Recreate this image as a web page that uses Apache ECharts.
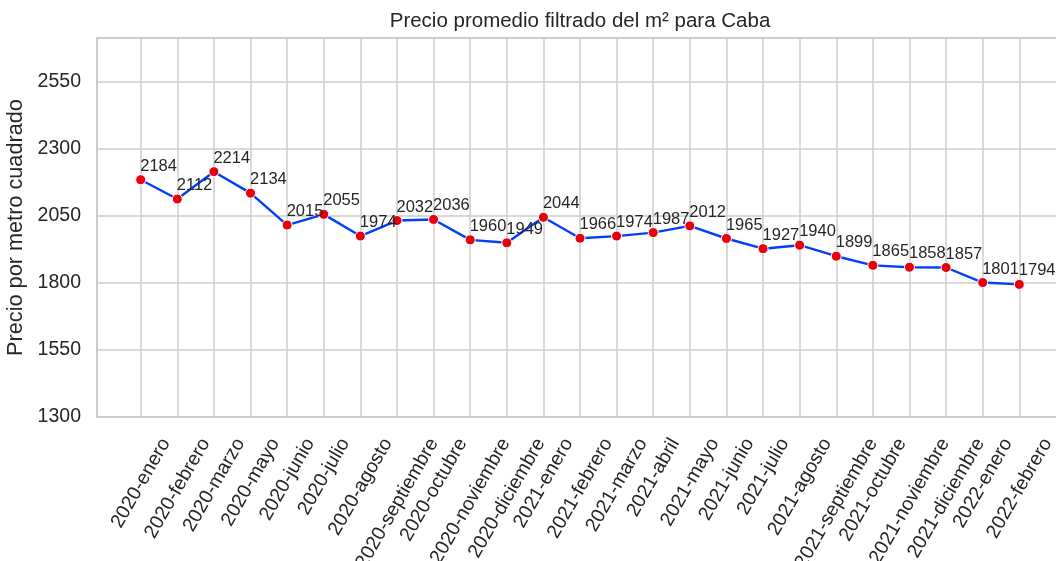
<!DOCTYPE html>
<html><head><meta charset="utf-8">
<script src="https://cdn.jsdelivr.net/npm/echarts@6/dist/echarts.min.js"></script>
<style>html,body{margin:0;padding:0;background:#fff}#c{width:1056px;height:561px}</style>
</head><body><div id="c"></div>
<script>
const categories = ['2020-enero','2020-febrero','2020-marzo','2020-mayo','2020-junio','2020-julio','2020-agosto','2020-septiembre','2020-octubre','2020-noviembre','2020-diciembre','2021-enero','2021-febrero','2021-marzo','2021-abril','2021-mayo','2021-junio','2021-julio','2021-agosto','2021-septiembre','2021-octubre','2021-noviembre','2021-diciembre','2022-enero','2022-febrero'];
const values = [2184,2112,2214,2134,2015,2055,1974,2032,2036,1960,1949,2044,1966,1974,1987,2012,1965,1927,1940,1899,1865,1858,1857,1801,1794];
const yMin = 1300, yMax = 2712, yStep = 250;
const titleText = 'Precio promedio filtrado del m² para Caba';
const yName = 'Precio por metro cuadrado';

const FONT = '"Liberation Sans", Arial, Helvetica, sans-serif';
const TEXT = '#262626';
const GRIDC = '#cccccc';
const TICK_FS = 19.5;
const TOP = 38, BOTTOM_Y = 417, H = 561;
const LEFT0 = 97, RIGHT0 = 1063;
const X_FIRST = 140.7, X_LAST = 1019.3;

// per-label rich padding so rotated labels are centred under their tick (like matplotlib)
const ctx = document.createElement('canvas').getContext('2d');
ctx.font = TICK_FS + 'px ' + FONT;
const LABEL_MARGIN = -4;
const LABEL_TOP = 435;
const D = LABEL_TOP - (BOTTOM_Y + LABEL_MARGIN);
const c60 = 0.5, s60 = Math.sqrt(3) / 2;
const rich = {};
categories.forEach(function (name, i) {
  const L = ctx.measureText(name).width;
  const u = 0.25 * L - (s60 / 2) * TICK_FS;
  const pr = Math.max(0, -c60 * u + s60 * D);
  const pt = Math.max(0, s60 * u + c60 * D);
  rich['p' + i] = { padding: [pt, pr, 0, 0], fontSize: TICK_FS, color: TEXT, fontFamily: FONT };
});

const chart = echarts.init(document.getElementById('c'), null, { renderer: 'canvas' });
chart.setOption({
  animation: false,
  backgroundColor: '#ffffff',
  textStyle: { fontFamily: FONT },
  title: {
    text: titleText, left: (LEFT0 + RIGHT0) / 2, top: 11, padding: 0, textAlign: 'center',
    textStyle: { fontSize: 20.5, fontWeight: 'normal', color: TEXT, fontFamily: FONT }
  },
  grid: [
    { left: LEFT0, right: 1056 - RIGHT0, top: TOP, bottom: H - BOTTOM_Y, show: true,
      borderColor: GRIDC, borderWidth: 2, backgroundColor: 'transparent', outerBoundsMode: 'none', containLabel: false },
    { left: X_FIRST, right: 1056 - X_LAST, top: TOP, bottom: H - BOTTOM_Y,
      outerBoundsMode: 'none', containLabel: false }
  ],
  xAxis: [
    { gridIndex: 0, type: 'value', min: 0, max: 1, show: false },
    { gridIndex: 1, type: 'category', boundaryGap: false, data: categories,
      axisLine: { show: false }, axisTick: { show: false },
      splitLine: { show: true, interval: 0, lineStyle: { color: GRIDC, width: 1.5 } },
      axisLabel: { interval: 0, rotate: 60, align: 'right', verticalAlign: 'top', margin: LABEL_MARGIN,
        fontSize: TICK_FS, color: TEXT, fontFamily: FONT, hideOverlap: false,
        formatter: function (v, i) { return '{p' + i + '|' + v + '}'; }, rich: rich } }
  ],
  yAxis: [
    { gridIndex: 0, type: 'value', min: yMin, max: yMax, interval: yStep,
      name: yName, nameLocation: 'middle', nameGap: 54,
      nameTextStyle: { fontSize: 21.7, color: TEXT, fontFamily: FONT },
      axisLine: { show: false }, axisTick: { show: false },
      splitLine: { show: true, lineStyle: { color: GRIDC, width: 1.5 } },
      axisLabel: { fontSize: TICK_FS, color: TEXT, margin: 16, showMaxLabel: false, fontFamily: FONT,
        formatter: function (v) { return String(v); } } },
    { gridIndex: 1, type: 'value', min: yMin, max: yMax, interval: yStep, show: false }
  ],
  series: [{
    type: 'line', xAxisIndex: 1, yAxisIndex: 1, data: values,
    showAllSymbol: true, symbol: 'circle', symbolSize: 10,
    lineStyle: { color: '#023eff', width: 2.4 },
    itemStyle: { color: '#e8000b', borderColor: '#ffffff', borderWidth: 1 },
    label: { show: true, position: [5, 0.5], align: 'left', verticalAlign: 'bottom',
      fontSize: 16.5, color: TEXT, fontFamily: FONT, formatter: '{c}' },
    emphasis: { disabled: true }, z: 5
  }]
});
</script>
</body></html>
